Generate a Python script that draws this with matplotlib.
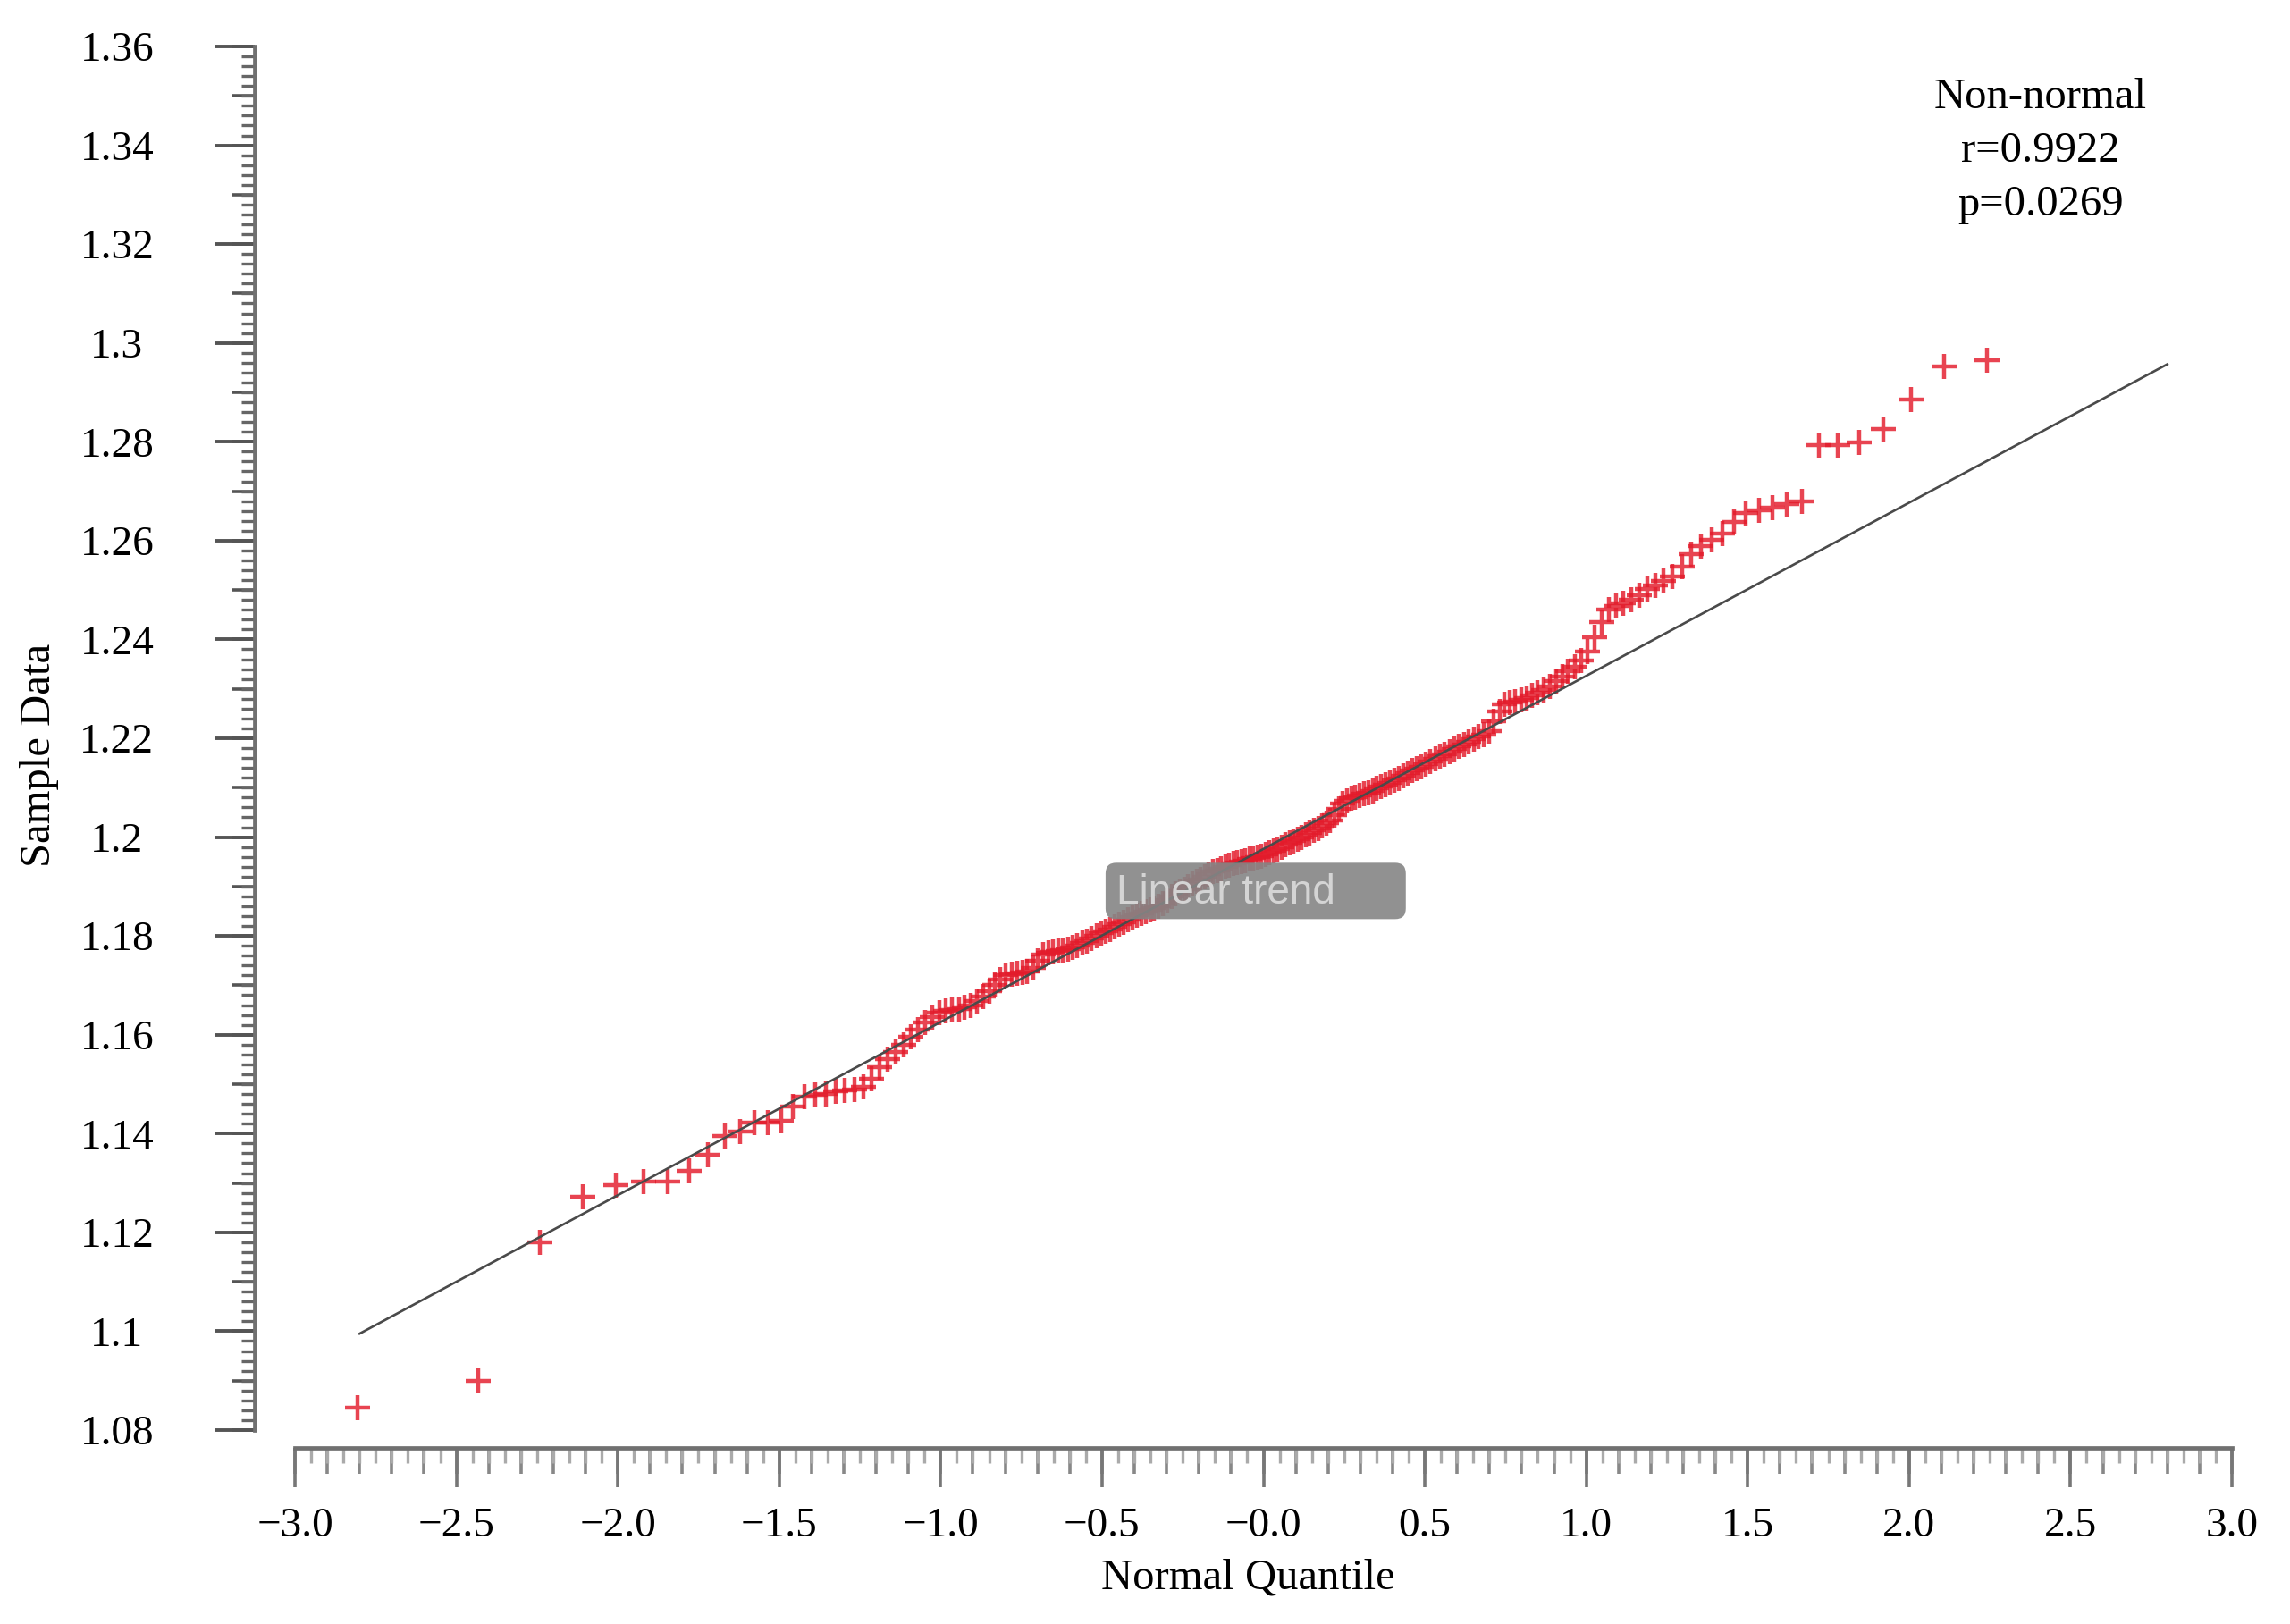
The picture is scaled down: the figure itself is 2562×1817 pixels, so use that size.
import matplotlib
matplotlib.use("Agg")
import matplotlib.pyplot as plt
from matplotlib.ticker import MultipleLocator, FixedLocator
from matplotlib.patches import FancyBboxPatch

plt.rcParams['font.family'] = ['Liberation Serif', 'DejaVu Serif']

# theoretical normal quantiles (x) and sorted sample values (y)
quantile_neg = [-2.807, -2.432, -2.241, -2.108, -2.005, -1.919, -1.846, -1.780, -1.722, -1.669,
                -1.621, -1.576, -1.534, -1.495, -1.458, -1.422, -1.388, -1.356, -1.326, -1.296,
                -1.267, -1.240, -1.213, -1.188, -1.163, -1.138, -1.115, -1.092, -1.069, -1.047,
                -1.026, -1.005, -0.984, -0.964, -0.944, -0.925, -0.906, -0.887, -0.868, -0.850,
                -0.832, -0.815, -0.798, -0.780, -0.764, -0.747, -0.731, -0.714, -0.698, -0.683,
                -0.667, -0.651, -0.636, -0.621, -0.605, -0.590, -0.576, -0.561, -0.546, -0.532,
                -0.517, -0.503, -0.489, -0.475, -0.461, -0.447, -0.433, -0.419, -0.405, -0.392,
                -0.378, -0.365, -0.351, -0.338, -0.324, -0.311, -0.298, -0.285, -0.272, -0.259,
                -0.246, -0.233, -0.220, -0.207, -0.194, -0.181, -0.169, -0.156, -0.143, -0.131,
                -0.118, -0.106, -0.094, -0.081, -0.069, -0.056, -0.044, -0.031, -0.019, -0.006]
sample_neg = [1.0845, 1.0899, 1.1180, 1.1272, 1.1296, 1.1302, 1.1303, 1.1324, 1.1357, 1.1395,
              1.1405, 1.1422, 1.1423, 1.1425, 1.1455, 1.1475, 1.1478, 1.1480, 1.1485, 1.1488,
              1.1490, 1.1495, 1.1510, 1.1535, 1.1550, 1.1565, 1.1580, 1.1595, 1.1610, 1.1625,
              1.1635, 1.1645, 1.1648, 1.1650, 1.1652, 1.1655, 1.1660, 1.1668, 1.1678, 1.1688,
              1.1700, 1.1712, 1.1720, 1.1722, 1.1724, 1.1726, 1.1728, 1.1735, 1.1750, 1.1762,
              1.1765, 1.1768, 1.1770, 1.1771, 1.1773, 1.1776, 1.1780, 1.1785, 1.1790, 1.1795,
              1.1800, 1.1805, 1.1810, 1.1813, 1.1818, 1.1823, 1.1828, 1.1833, 1.1838, 1.1842,
              1.1846, 1.1850, 1.1853, 1.1856, 1.1860, 1.1866, 1.1872, 1.1879, 1.1885, 1.1890,
              1.1895, 1.1900, 1.1905, 1.1910, 1.1915, 1.1920, 1.1925, 1.1930, 1.1933, 1.1936,
              1.1940, 1.1943, 1.1946, 1.1948, 1.1950, 1.1953, 1.1955, 1.1958, 1.1960, 1.1962]
quantile_pos = [0.006, 0.019, 0.031, 0.044, 0.056, 0.069, 0.081, 0.094, 0.106, 0.118,
                0.131, 0.143, 0.156, 0.169, 0.181, 0.194, 0.207, 0.220, 0.233, 0.246,
                0.259, 0.272, 0.285, 0.298, 0.311, 0.324, 0.338, 0.351, 0.365, 0.378,
                0.392, 0.405, 0.419, 0.433, 0.447, 0.461, 0.475, 0.489, 0.503, 0.517,
                0.532, 0.546, 0.561, 0.576, 0.590, 0.605, 0.621, 0.636, 0.651, 0.667,
                0.683, 0.698, 0.714, 0.731, 0.747, 0.764, 0.780, 0.798, 0.815, 0.832,
                0.850, 0.868, 0.887, 0.906, 0.925, 0.944, 0.964, 0.984, 1.005, 1.026,
                1.047, 1.069, 1.092, 1.115, 1.138, 1.163, 1.188, 1.213, 1.240, 1.267,
                1.296, 1.326, 1.356, 1.388, 1.422, 1.458, 1.495, 1.534, 1.576, 1.621,
                1.669, 1.722, 1.780, 1.846, 1.919, 2.005, 2.108, 2.241]
sample_pos = [1.1965, 1.1968, 1.1972, 1.1976, 1.1980, 1.1984, 1.1988, 1.1992, 1.1996, 1.2000,
              1.2004, 1.2008, 1.2013, 1.2018, 1.2023, 1.2028, 1.2033, 1.2045, 1.2058, 1.2068,
              1.2074, 1.2078, 1.2081, 1.2084, 1.2087, 1.2090, 1.2094, 1.2098, 1.2102, 1.2106,
              1.2110, 1.2115, 1.2119, 1.2124, 1.2129, 1.2134, 1.2139, 1.2143, 1.2148, 1.2153,
              1.2158, 1.2163, 1.2168, 1.2173, 1.2178, 1.2183, 1.2188, 1.2193, 1.2198, 1.2203,
              1.2208, 1.2215, 1.2235, 1.2255, 1.2268, 1.2272, 1.2275, 1.2278, 1.2282, 1.2287,
              1.2293, 1.2298, 1.2305, 1.2315, 1.2325, 1.2335, 1.2345, 1.2357, 1.2375, 1.2405,
              1.2435, 1.2460, 1.2468, 1.2474, 1.2480, 1.2490, 1.2502, 1.2510, 1.2518, 1.2528,
              1.2548, 1.2572, 1.2588, 1.2602, 1.2614, 1.2638, 1.2655, 1.2662, 1.2666, 1.2673,
              1.2680, 1.2793, 1.2793, 1.2798, 1.2825, 1.2885, 1.2952, 1.2965]

trend_x = [-2.80, 2.80]
trend_y = [1.0995, 1.2957]

x_tick_labels = ['\u22123.0', '\u22122.5', '\u22122.0', '\u22121.5', '\u22121.0', '\u22120.5', '\u22120.0',
                 '0.5', '1.0', '1.5', '2.0', '2.5', '3.0']
y_tick_labels = ['1.08', '1.1', '1.12', '1.14', '1.16', '1.18', '1.2', '1.22', '1.24',
                 '1.26', '1.28', '1.3', '1.32', '1.34', '1.36']

stats_text = 'Non-normal\nr=0.9922\np=0.0269'
badge_text = 'Linear trend'

W, H = 2562, 1817
fig = plt.figure(figsize=(W / 100, H / 100), dpi=100)
ax = fig.add_axes([330 / W, 217 / H, 2167 / W, 1548 / H])

qx = quantile_neg + quantile_pos
qy = sample_neg + sample_pos
ax.plot(qx, qy, linestyle='none', marker='+', ms=20, mew=3.2,
        color='#e31b2b', alpha=0.82, zorder=3)
ax.plot(trend_x, trend_y, color='#4a4a4a', lw=1.9, zorder=4)

ax.set_xlim(-3, 3)
ax.set_ylim(1.08, 1.36)

# axes look: detached spines, ruler-like ticks
left_loc = -45 / 2167
bottom_loc = -20 / 1548
for s in ['top', 'right']:
    ax.spines[s].set_visible(False)
ax.spines['left'].set_position(('axes', left_loc))
ax.spines['bottom'].set_position(('axes', bottom_loc))
for s in ['left', 'bottom']:
    ax.spines[s].set_color('#707070')
    ax.spines[s].set_linewidth(3.4)

x_ticks = [float(t.replace('\u2212', '-')) for t in x_tick_labels]
y_ticks = [float(t) for t in y_tick_labels]
ax.xaxis.set_major_locator(FixedLocator(x_ticks))
ax.set_xticklabels(x_tick_labels)
ax.yaxis.set_major_locator(FixedLocator(y_ticks))
ax.set_yticklabels(y_tick_labels)
ax.xaxis.set_minor_locator(MultipleLocator(0.05))
ax.yaxis.set_minor_locator(MultipleLocator(0.002))

ax.tick_params(axis='x', which='major', length=32, width=2.6, color='#777777',
               pad=16, labelsize=34)
ax.tick_params(axis='x', which='minor', length=12, width=2.4, color='#aaaaaa')
ax.tick_params(axis='y', which='major', length=32, width=2.8, color='#555555',
               pad=79, labelsize=34)
ax.tick_params(axis='y', which='minor', length=11, width=2.4, color='#666666')
for lab in ax.get_yticklabels():
    lab.set_ha('center')

# middle-length ticks
sx = ax.secondary_xaxis(bottom_loc)
sx.xaxis.set_major_locator(MultipleLocator(0.1))
sx.tick_params(axis='x', which='major', length=21, width=2.6, color='#888888', labelbottom=False)
sx.spines['bottom'].set_visible(False)
sy = ax.secondary_yaxis(left_loc)
sy.yaxis.set_major_locator(MultipleLocator(0.01))
sy.tick_params(axis='y', which='major', length=19, width=2.6, color='#555555', labelleft=False)
sy.spines['left'].set_visible(False)

ax.set_xlabel('Normal Quantile', fontsize=35)
ax.xaxis.set_label_coords(0.492, -0.1066)
ax.xaxis.label.set_va('center')
ax.set_ylabel('Sample Data', fontsize=35)
ax.yaxis.set_label_coords(-0.132, 0.4877)
ax.yaxis.label.set_va('center')

ax.text(0.9013, 0.9244, stats_text, transform=ax.transAxes, ha='center', va='center',
        multialignment='center', fontsize=35, linespacing=1.48)

# grey tooltip badge
box = FancyBboxPatch((-0.489, 1.1834), 0.93, 0.0114,
                     boxstyle='round,pad=0,rounding_size=0.033', mutation_aspect=0.0654,
                     fc='#858585', ec='none', alpha=0.9, zorder=5)
ax.add_patch(box)
ax.text(-0.455, 1.1887, badge_text, family=['Liberation Sans', 'DejaVu Sans'],
        fontsize=33, color='#d4d4d4', va='center', ha='left', zorder=6)

fig.savefig('out.png', dpi=100)
